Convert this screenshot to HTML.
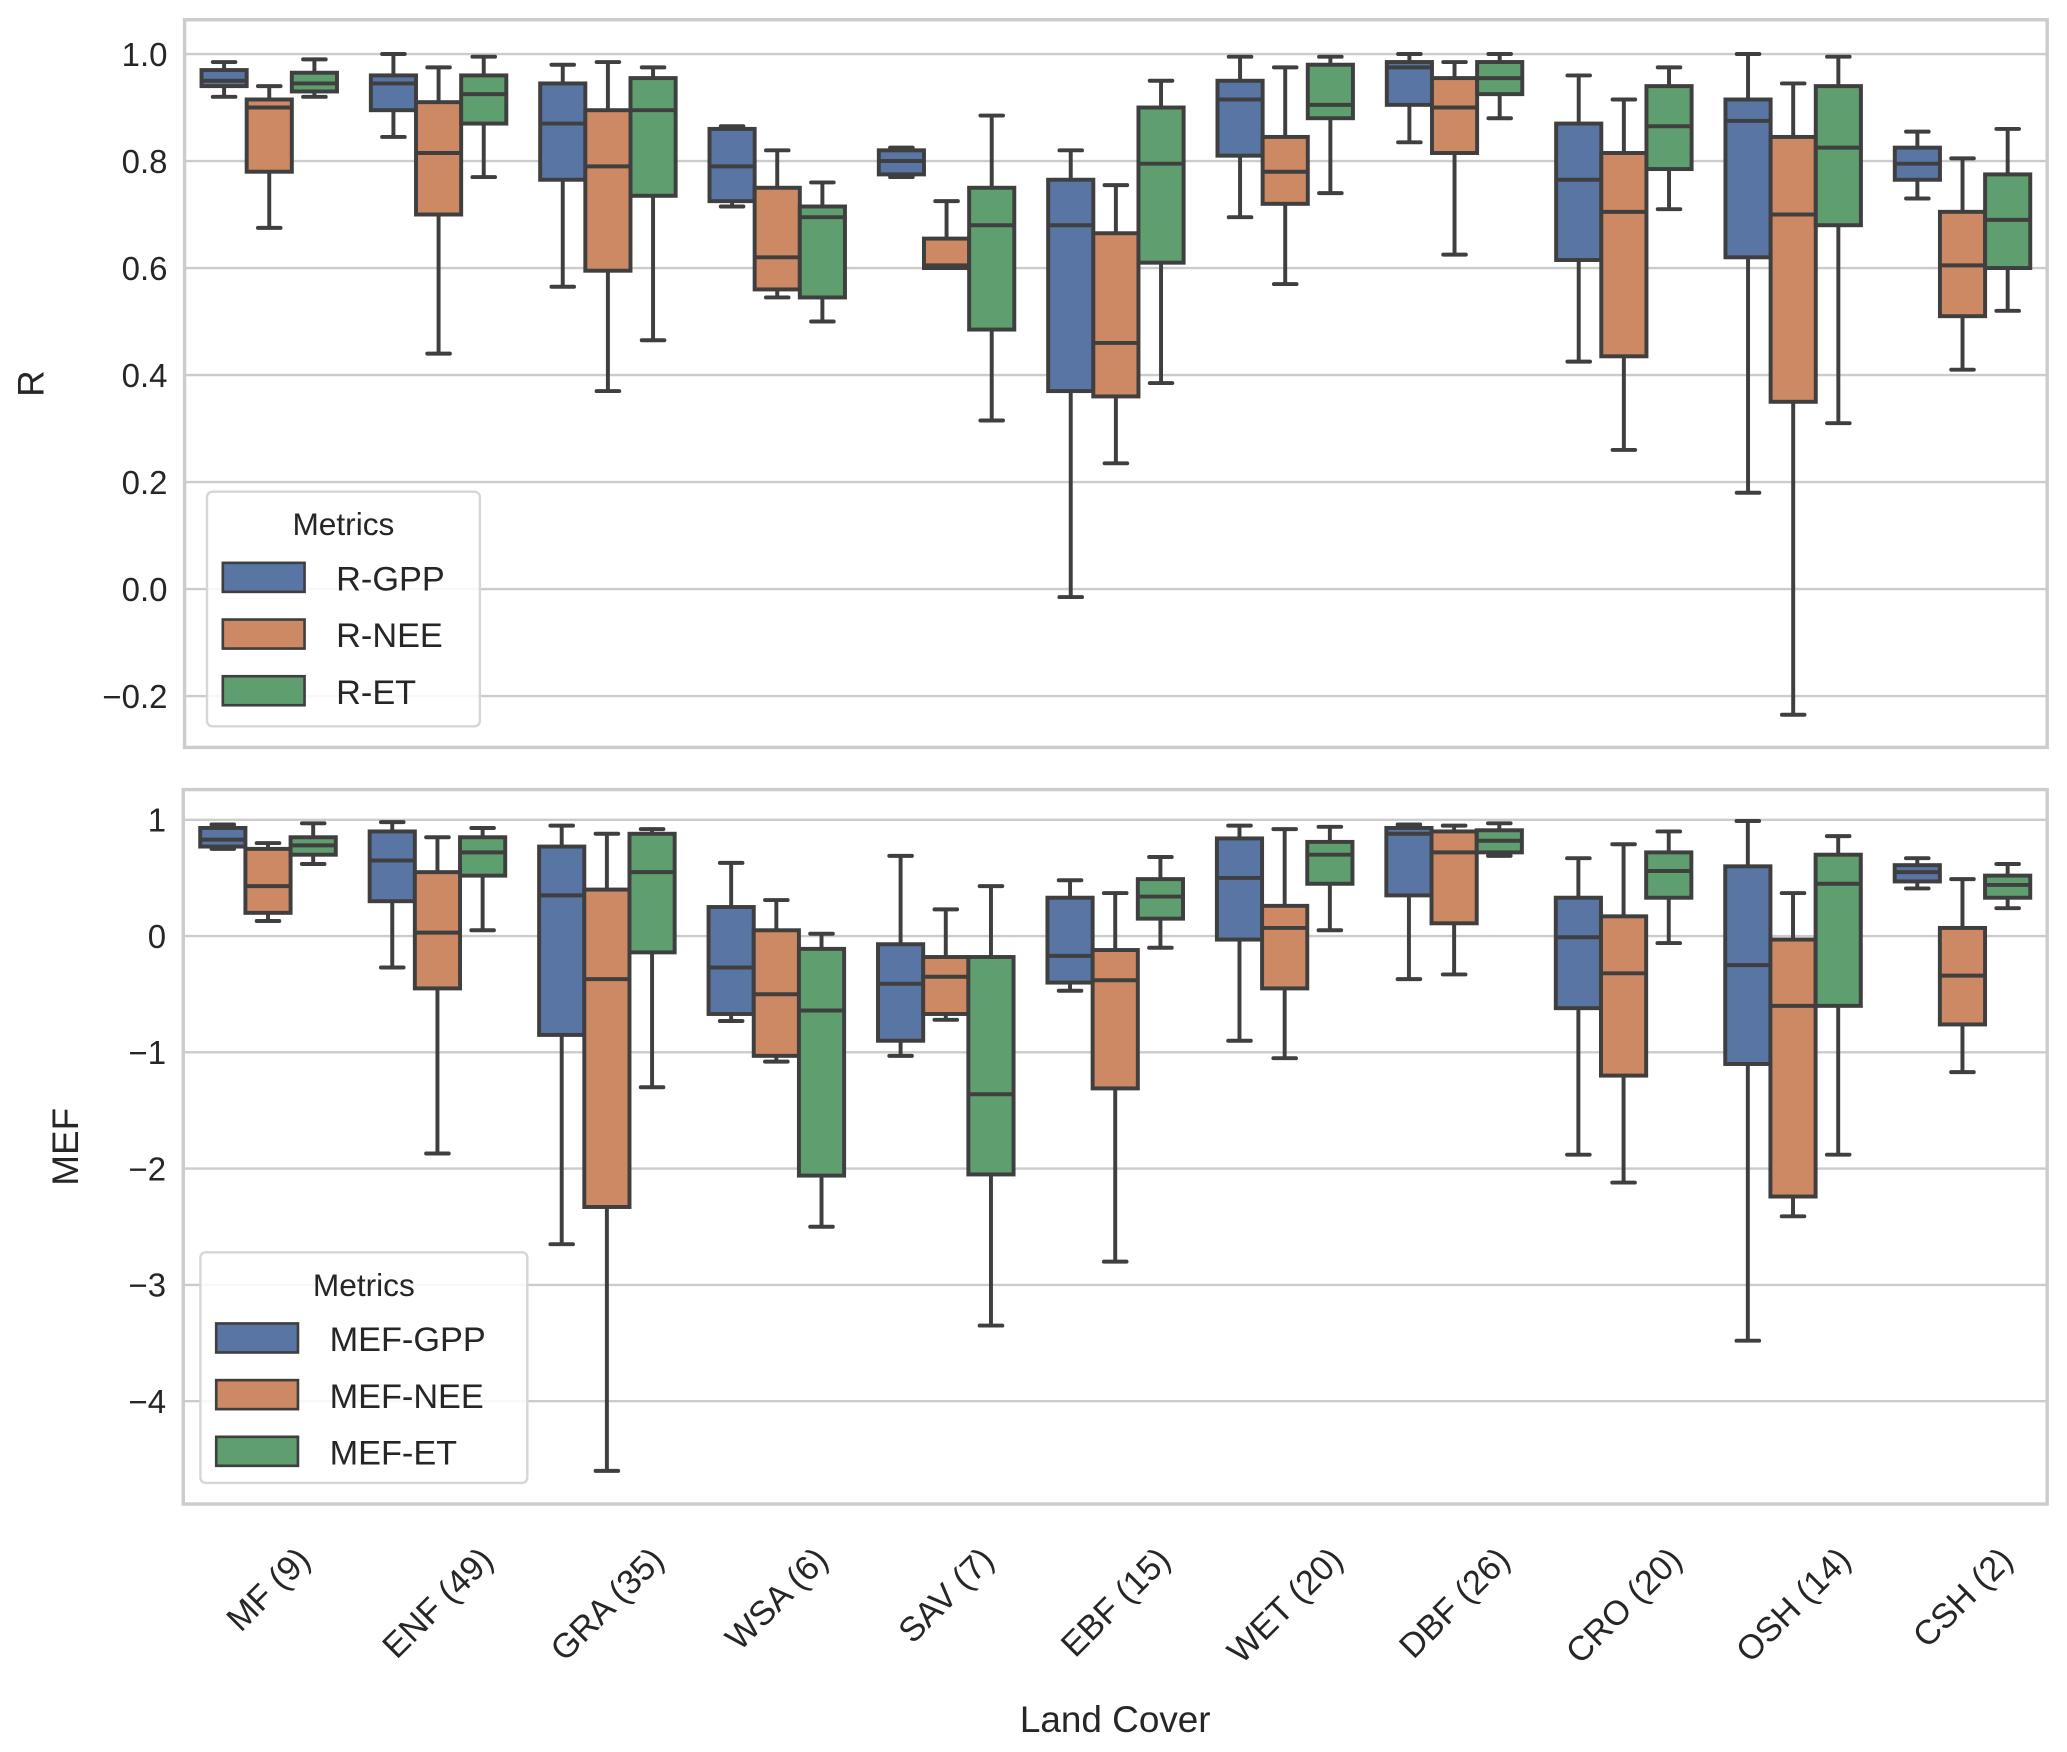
<!DOCTYPE html>
<html><head><meta charset="utf-8">
<style>
html,body{margin:0;padding:0;background:#fff;}
svg{display:block;font-family:"Liberation Sans","DejaVu Sans",sans-serif;}
</style></head>
<body>
<svg id="chart" width="2067" height="1752" viewBox="0 0 1568 1329.1" xmlns="http://www.w3.org/2000/svg"></svg>
<script>
const categories = ["MF (9)","ENF (49)","GRA (35)","WSA (6)","SAV (7)","EBF (15)","WET (20)","DBF (26)","CRO (20)","OSH (14)","CSH (2)"];
const rSeriesNames = ["R-GPP","R-NEE","R-ET"];
const mefSeriesNames = ["MEF-GPP","MEF-NEE","MEF-ET"];
// [whiskerLow, q1, median, q3, whiskerHigh]
const rGPP = [[0.92,0.94,0.95,0.97,0.985],[0.845,0.895,0.945,0.96,1.0],[0.565,0.765,0.87,0.945,0.98],[0.715,0.725,0.79,0.86,0.865],[0.77,0.775,0.80,0.82,0.825],[-0.015,0.37,0.68,0.765,0.82],[0.695,0.81,0.915,0.95,0.995],[0.835,0.905,0.975,0.985,1.0],[0.425,0.615,0.765,0.87,0.96],[0.18,0.62,0.875,0.915,1.0],[0.73,0.765,0.795,0.825,0.855]];
const rNEE = [[0.675,0.78,0.90,0.915,0.94],[0.44,0.70,0.815,0.91,0.975],[0.37,0.595,0.79,0.895,0.985],[0.545,0.56,0.62,0.75,0.82],[0.60,0.60,0.605,0.655,0.725],[0.235,0.36,0.46,0.665,0.755],[0.57,0.72,0.78,0.845,0.975],[0.625,0.815,0.90,0.955,0.985],[0.26,0.435,0.705,0.815,0.915],[-0.235,0.35,0.70,0.845,0.945],[0.41,0.51,0.605,0.705,0.805]];
const rET = [[0.92,0.93,0.945,0.965,0.99],[0.77,0.87,0.925,0.96,0.995],[0.465,0.735,0.895,0.955,0.975],[0.50,0.545,0.695,0.715,0.76],[0.315,0.485,0.68,0.75,0.885],[0.385,0.61,0.795,0.90,0.95],[0.74,0.88,0.905,0.98,0.995],[0.88,0.925,0.955,0.985,1.0],[0.71,0.785,0.865,0.94,0.975],[0.31,0.68,0.825,0.94,0.995],[0.52,0.60,0.69,0.775,0.86]];
const mefGPP = [[0.75,0.77,0.83,0.93,0.96],[-0.27,0.3,0.65,0.9,0.98],[-2.65,-0.85,0.35,0.77,0.95],[-0.73,-0.67,-0.27,0.25,0.63],[-1.03,-0.9,-0.41,-0.07,0.69],[-0.47,-0.4,-0.17,0.33,0.48],[-0.9,-0.03,0.5,0.84,0.95],[-0.37,0.35,0.88,0.93,0.96],[-1.88,-0.62,-0.01,0.33,0.67],[-3.48,-1.1,-0.25,0.6,0.99],[0.41,0.47,0.55,0.61,0.67]];
const mefNEE = [[0.13,0.2,0.43,0.75,0.8],[-1.87,-0.45,0.03,0.55,0.85],[-4.6,-2.33,-0.37,0.4,0.88],[-1.08,-1.03,-0.5,0.05,0.31],[-0.72,-0.67,-0.35,-0.18,0.23],[-2.8,-1.31,-0.38,-0.12,0.37],[-1.05,-0.45,0.07,0.26,0.92],[-0.33,0.11,0.72,0.9,0.95],[-2.12,-1.2,-0.32,0.17,0.79],[-2.41,-2.24,-0.6,-0.03,0.37],[-1.17,-0.76,-0.34,0.07,0.49]];
const mefET = [[0.62,0.7,0.78,0.85,0.97],[0.05,0.52,0.72,0.85,0.93],[-1.3,-0.14,0.55,0.88,0.92],[-2.5,-2.06,-0.64,-0.11,0.02],[-3.35,-2.05,-1.36,-0.18,0.43],[-0.1,0.15,0.34,0.49,0.68],[0.05,0.45,0.7,0.81,0.94],[0.69,0.72,0.82,0.91,0.97],[-0.06,0.33,0.56,0.72,0.9],[-1.88,-0.6,0.45,0.7,0.86],[0.24,0.33,0.44,0.52,0.62]];
const rTicks = [-0.2,0.0,0.2,0.4,0.6,0.8,1.0];
const rTickLabels = ["\u22120.2","0.0","0.2","0.4","0.6","0.8","1.0"];
const mefTicks = [-4,-3,-2,-1,0,1];
const mefTickLabels = ["\u22124","\u22123","\u22122","\u22121","0","1"];

const colors = ["#5875a4","#cc8963","#5f9e6e"];
const lineC = "#3f3f3f";
const LW = 3;
const NS = "http://www.w3.org/2000/svg";
const svgEl = document.getElementById("chart");
function mk(tag, attrs, parent){
  const e = document.createElementNS(NS, tag);
  for (const k in attrs) e.setAttribute(k, attrs[k]);
  (parent||svgEl).appendChild(e); return e;
}

function panel(cfg){
  const {left,right,top,bottom,ymin,ymax,ticks,tickLabels,series,names,name,ylabel,ylabelX,legend} = cfg;
  const g = mk("g",{});
  
  
  const y = v => bottom - (v - ymin) / (ymax - ymin) * (bottom - top);
  const band = (right - left) / categories.length;
  const x = i => left + band * (i + 0.5);
  ticks.forEach((t,i)=>{
    const gl = mk("line",{x1:left,x2:right,y1:y(t),y2:y(t),stroke:"#cccccc","stroke-width":1.8},g);
    
    
    const tl = mk("text",{x:left-13,y:y(t)+9,"text-anchor":"end","font-size":25,fill:"#262626"},g);
    tl.textContent = tickLabels[i];
    
    
  });
  const bw = band * 0.8 / 3;
  series.forEach((ser,s)=>{
    ser.forEach((d,i)=>{
      const x0 = x(i) - band*0.4 + s*bw;
      const cx = x0 + bw/2;
      const bg = mk("g",{},g);
      
      
      mk("line",{x1:cx,x2:cx,y1:y(d[0]),y2:y(d[1]),stroke:lineC,"stroke-width":LW},bg);
      mk("line",{x1:cx,x2:cx,y1:y(d[3]),y2:y(d[4]),stroke:lineC,"stroke-width":LW},bg);
      mk("line",{x1:cx-bw/4,x2:cx+bw/4,y1:y(d[0]),y2:y(d[0]),stroke:lineC,"stroke-width":LW,"stroke-linecap":"round"},bg);
      mk("line",{x1:cx-bw/4,x2:cx+bw/4,y1:y(d[4]),y2:y(d[4]),stroke:lineC,"stroke-width":LW,"stroke-linecap":"round"},bg);
      mk("rect",{x:x0,y:y(d[3]),width:bw,height:Math.max(0.5,y(d[1])-y(d[3])),fill:colors[s],stroke:lineC,"stroke-width":LW},bg);
      mk("line",{x1:x0,x2:x0+bw,y1:y(d[2]),y2:y(d[2]),stroke:lineC,"stroke-width":LW},bg);
    });
  });
  const fr = mk("rect",{x:left,y:top,width:right-left,height:bottom-top,fill:"none",stroke:"#cccccc","stroke-width":2.6},g);
  
  
  const yl = mk("text",{x:ylabelX,y:(top+bottom)/2,"text-anchor":"middle","font-size":28,fill:"#262626",transform:`rotate(-90 ${ylabelX} ${(top+bottom)/2})`},g);
  yl.textContent = ylabel;
  
  
  const L = legend;
  const lg = mk("g",{},g);
  
  
  mk("rect",{x:L.x,y:L.y,width:L.w,height:L.h,rx:4,fill:"#fff","fill-opacity":0.85,stroke:"#d6d6d6","stroke-width":1.8},lg);
  const lt = mk("text",{x:L.x+L.w/2,y:L.y+33,"text-anchor":"middle","font-size":24,fill:"#262626"},lg);
  lt.textContent = "Metrics";
  
  
  names.forEach((n,s)=>{
    const ey = L.y + 65 + s*43;
    const eg = mk("g",{},lg);
    
    
    mk("rect",{x:L.x+12,y:ey-11,width:62,height:22,fill:colors[s],stroke:lineC,"stroke-width":2},eg);
    const t = mk("text",{x:L.x+98,y:ey+10,"font-size":26,fill:"#262626"},eg);
    t.textContent = n;
  });
  return {x, band};
}

const topPanel = panel({left:140,right:1553,top:15,bottom:567,ymin:-0.296,ymax:1.064,ticks:rTicks,tickLabels:rTickLabels,
  series:[rGPP,rNEE,rET],names:rSeriesNames,name:"r-panel",ylabel:"R",ylabelX:33,
  legend:{x:157,y:373,w:207,h:178}});
const botPanel = panel({left:139,right:1553,top:599,bottom:1141,ymin:-4.885,ymax:1.26,ticks:mefTicks,tickLabels:mefTickLabels,
  series:[mefGPP,mefNEE,mefET],names:mefSeriesNames,name:"mef-panel",ylabel:"MEF",ylabelX:59,
  legend:{x:152,y:950,w:248,h:175}});

categories.forEach((c,i)=>{
  const cx = botPanel.x(i);
  const t = mk("text",{x:cx,y:0,"text-anchor":"middle","font-size":26,fill:"#262626"});
  t.textContent = c;
  
  
  let w = c.length*13;
  try { w = t.getComputedTextLength(); } catch(e) {}
  const cy = 1170 + (w + 24) * 0.7071 / 2;
  t.setAttribute("y", cy + 9);
  t.setAttribute("transform", `rotate(-45 ${cx} ${cy})`);
});
const xl = mk("text",{x:846,y:1314,"text-anchor":"middle","font-size":28,fill:"#262626"});
xl.textContent = "Land Cover";


</script>
</body></html>
